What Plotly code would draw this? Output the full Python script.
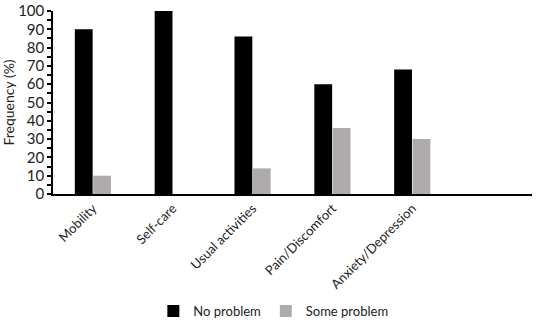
import plotly.graph_objects as go

categories = ["Mobility", "Self-care", "Usual activities", "Pain/Discomfort", "Anxiety/Depression"]
no_problem = [90, 100, 86, 60, 68]
some_problem = [10, 0, 14, 36, 30]
y_ticks = [0, 10, 20, 30, 40, 50, 60, 70, 80, 90, 100]

x_pos = list(range(len(categories)))
FONT = "Lato"

fig = go.Figure()
fig.add_trace(go.Bar(x=x_pos, y=no_problem, name="No problem",
                     marker=dict(color="#000000", line=dict(width=0))))
fig.add_trace(go.Bar(x=x_pos, y=some_problem, name="Some problem",
                     marker=dict(color="#AFABAB", line=dict(width=0))))

fig.update_layout(
    width=550, height=326,
    margin=dict(l=53, r=18, t=11, b=132, autoexpand=False),
    paper_bgcolor="white", plot_bgcolor="white",
    barmode="group", bargap=0.54, bargroupgap=0.03,
    font=dict(family=FONT, size=14, color="#222222"),
    showlegend=True,
    legend=dict(orientation="h", x=0.46, xanchor="center", y=-0.64, yanchor="middle",
                font=dict(size=13, family=FONT), itemwidth=30, tracegroupgap=0,
                traceorder="normal"),
    xaxis=dict(range=[-0.5, 5.5], tickmode="array", tickvals=x_pos, ticktext=categories,
               tickangle=-45, showline=True, linecolor="#000000", linewidth=1.5,
               ticks="", showgrid=False, zeroline=False, automargin=False,
               tickfont=dict(size=13, family=FONT, color="#222222")),
    yaxis=dict(range=[0, 100], tickmode="array", tickvals=y_ticks,
               showline=True, linecolor="#000000", linewidth=1.5,
               ticks="outside", ticklen=4, tickcolor="#000000", tickwidth=1.5,
               minor=dict(dtick=5, ticks="outside", ticklen=4, tickcolor="#000000", tickwidth=1.5),
               showgrid=False, zeroline=False, automargin=False,
               title=dict(text="Frequency (%)", font=dict(size=14, family=FONT), standoff=6),
               tickfont=dict(size=15, family=FONT, color="#222222")),
)

# remove the browser's default 8px body margin so the figure sits at the window origin
fig.write_html("out.html", config={"displayModeBar": False},
               post_script="document.body.style.margin='0';")
